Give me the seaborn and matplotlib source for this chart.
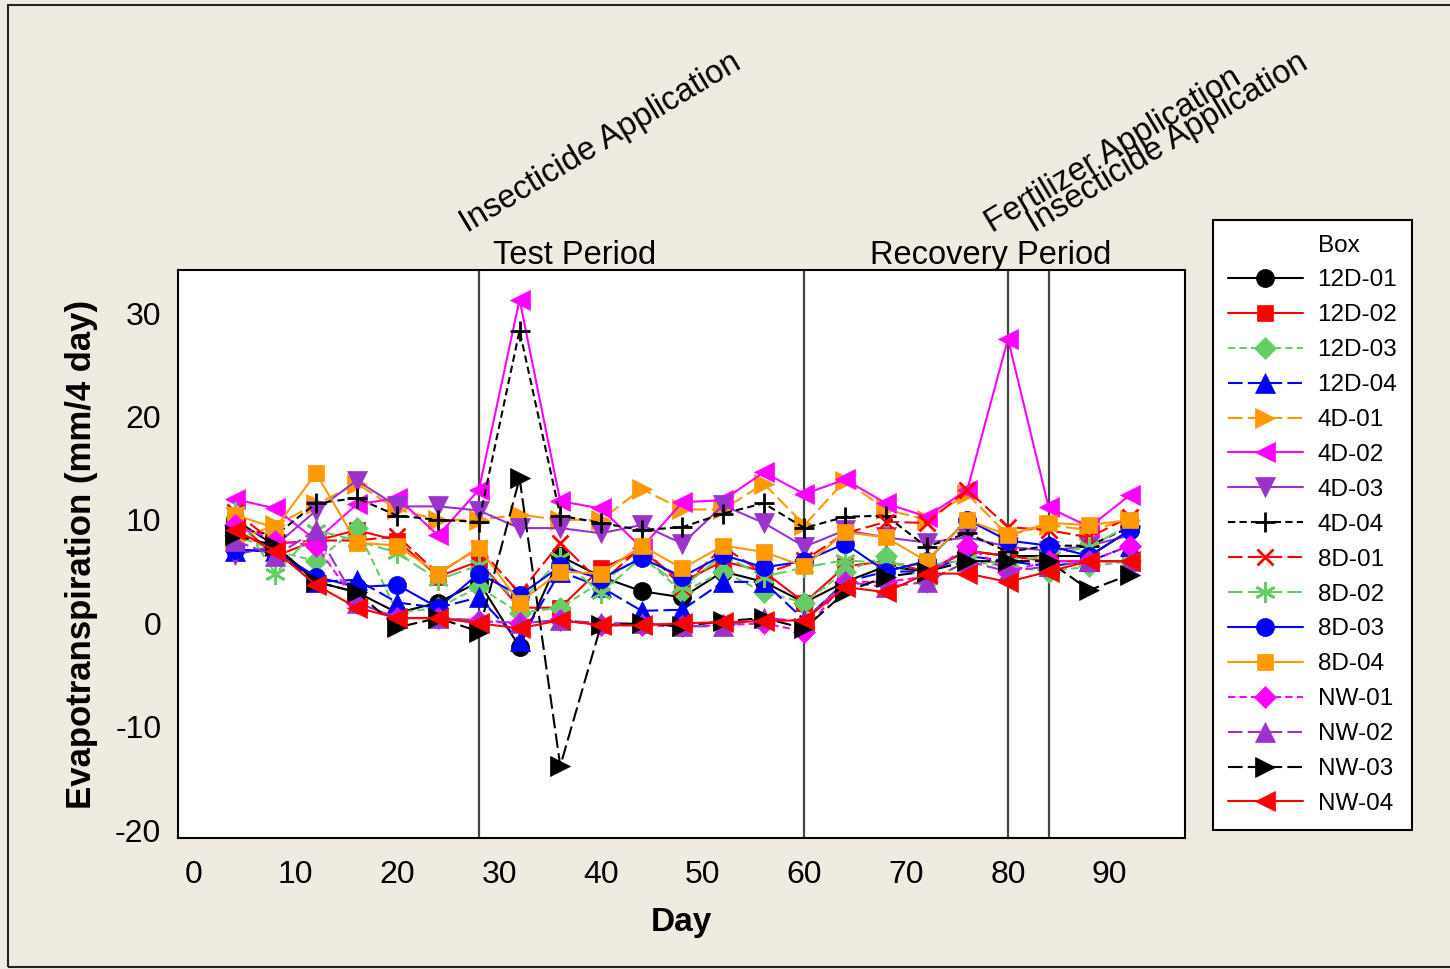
import matplotlib
matplotlib.use("Agg")
import matplotlib.pyplot as plt
from matplotlib.lines import Line2D
from matplotlib.patches import Rectangle
import seaborn as sns

# sampling days
days = [4, 8, 12, 16, 20, 24, 28, 32, 36, 40, 44, 48,
        52, 56, 60, 64, 68, 72, 76, 80, 84, 88, 92]

# evapotranspiration (mm/4 day) per box
et_12d01 = [10, 7.5, 4, 3, 1, 2, 4, -2.3, 6.5, 4.5, 3.1, 2.5, 5, 4, 2, 4, 5.5, 5, 7, 6.5, 6.5, 6.5, 9]
et_12d02 = [10, 6.5, 8, 9, 8, 4.5, 6, 1.5, 1.5, 5.3, 7, 4, 6, 5, 2, 5.5, 6, 5, 7, 6.5, 6, 6, 6]
et_12d03 = [8.5, 7, 6, 9.2, 1, 1.5, 3.5, 1, 1.5, 4, 6.5, 3, 5, 3, 2, 5, 6.5, 4, 6, 5.5, 5, 5.5, 6]
et_12d04 = [7, 7, 4, 4.2, 2, 1.5, 2.5, -1.7, 5, 3.5, 1.2, 1.3, 4, 4, 0.3, 4, 5, 5, 6.5, 6, 5.5, 6, 7.5]
et_4d01 = [8, 9.5, 11.5, 13.5, 11, 10, 10, 10.5, 10, 10, 13, 11, 11, 13.5, 9.5, 13.8, 11, 10, 12.5, 8.5, 9.5, 9, 10]
et_4d02 = [12, 11.1, 8, 11.5, 12.1, 8.5, 12.9, 31.3, 11.8, 11.1, 7.3, 11.7, 11.9, 14.6, 12.5, 13.9, 11.6, 10.3, 12.9, 27.5, 11.2, 9.3, 12.4]
et_4d03 = [6.6, 7.5, 10.9, 13.8, 11.3, 11.3, 10.9, 9.2, 9.2, 8.7, 9.5, 7.7, 11.4, 9.7, 7.4, 9, 8.3, 7.8, 8.3, 7.4, 7, 7.5, 8.5]
et_4d04 = [9.2, 8.5, 11.6, 12.1, 10.4, 10, 9.8, 28.3, 10.4, 9.7, 9, 9.3, 10.6, 11.6, 9.2, 10.3, 10.4, 7.4, 8.7, 6.9, 7.5, 7.5, 9.3]
et_8d01 = [10.8, 7.7, 8, 8, 8.4, 4.8, 7.3, 2.9, 7.8, 3.9, 7.4, 3.5, 7.4, 4.8, 6.1, 8.7, 9.8, 9.7, 12.9, 9.3, 9, 8.3, 10.3]
et_8d02 = [10.8, 4.8, 9, 8, 6.8, 4.2, 5.6, 1.9, 6.3, 2.9, 6.4, 3.5, 6.6, 4.5, 5.4, 6.1, 5.8, 5.6, 6.1, 5.8, 6.6, 7.4, 9.5]
et_8d03 = [7.1, 7, 4.5, 3.5, 3.7, 1.5, 4.8, 2.7, 5.5, 4.3, 6.3, 4.5, 6.6, 5.4, 6, 7.7, 5, 6, 10, 8, 7.5, 6.5, 9]
et_8d04 = [10.5, 9.2, 14.5, 7.8, 7.5, 4.8, 7.3, 2, 5, 4.8, 7.5, 5.3, 7.5, 6.9, 5.5, 8.8, 8.3, 6, 10, 8.5, 9.7, 9.5, 10]
et_nw01 = [9.5, 8, 7.5, 2, 0.5, 0.5, 0.2, 0, 0.3, -0.2, -0.2, -0.3, -0.2, 0, -0.8, 4, 4, 4.5, 7.5, 5, 6, 6, 7.5]
et_nw02 = [8, 6.5, 9, 2, 0.5, 0.5, 0.3, 0, 0.3, 0, 0, -0.3, -0.3, 0.5, 0.2, 4, 3.5, 4, 6, 5, 5.5, 6, 6]
et_nw03 = [8.5, 7.5, 4, 3, -0.4, 0.5, -0.8, 14, -13.8, -0.2, 0, -0.3, 0.2, 0.5, -0.5, 3, 4.5, 5, 6, 6, 6, 3.2, 4.7]
et_nw04 = [9, 7, 3.7, 1.5, 0.5, 0.5, 0, -0.5, 0.3, -0.2, -0.2, 0, 0.1, 0.2, 0.3, 3.5, 3, 4.8, 4.8, 4, 5, 6, 6]

boxes = ["12D-01", "12D-02", "12D-03", "12D-04", "4D-01", "4D-02", "4D-03", "4D-04",
         "8D-01", "8D-02", "8D-03", "8D-04", "NW-01", "NW-02", "NW-03", "NW-04"]
values = [et_12d01, et_12d02, et_12d03, et_12d04, et_4d01, et_4d02, et_4d03, et_4d04,
          et_8d01, et_8d02, et_8d03, et_8d04, et_nw01, et_nw02, et_nw03, et_nw04]

event_days = [28, 60, 80, 84]
period_labels = ["Test Period", "Recovery Period"]
period_x = [29.4, 66.4]
event_labels = ["Insecticide Application", "Fertilizer Application", "Insecticide Application"]
event_x = [26.9, 78.5, 82.6]

BLACK, RED, GREEN, BLUE = "#000000", "#FF0000", "#66CC66", "#0000FF"
ORANGE, MAGENTA, PURPLE = "#FF9900", "#FF00FF", "#9933CC"
solid, dash, ldash = "-", (0, (3.5, 2)), (0, (7, 2.5))
star = (6, 2, 0)

# colour, marker, marker size, line style
styles = [
    (BLACK, "o", 13, solid), (RED, "s", 12, solid), (GREEN, "D", 11, dash), (BLUE, "^", 14, ldash),
    (ORANGE, ">", 14, ldash), (MAGENTA, "<", 14, solid), (PURPLE, "v", 14, solid), (BLACK, "+", 15, dash),
    (RED, "x", 12, ldash), (GREEN, star, 15, ldash), (BLUE, "o", 13, solid), (ORANGE, "s", 12, solid),
    (MAGENTA, "D", 11, dash), (PURPLE, "^", 14, ldash), (BLACK, ">", 14, ldash), (RED, "<", 14, solid),
]

sns.set_style("white")
plt.rcParams["font.family"] = ["Liberation Sans", "DejaVu Sans"]
plt.rcParams["text.color"] = "black"
plt.rcParams["axes.labelcolor"] = "black"
plt.rcParams["axes.unicode_minus"] = False

fig = plt.figure(figsize=(14.5, 9.69), dpi=100, facecolor="#EFEBE1")
ax = fig.add_axes([178 / 1450, 1 - 838 / 969, 1007 / 1450, 568 / 969])
fig.patches.append(Rectangle((8 / 1450, 2 / 969), 1.2, 962 / 969, transform=fig.transFigure,
                             fill=False, edgecolor="#222222", linewidth=1.5))

for box, vals, (col, mk, ms, ls) in zip(boxes, values, styles):
    line_art = mk in ("+", "x") or mk == star
    sns.lineplot(x=days, y=vals, ax=ax, color=col, marker=mk, markersize=ms, linestyle=ls,
                 linewidth=1.5, markeredgecolor=col, markerfacecolor=col,
                 markeredgewidth=2 if line_art else 0.5, label=box)

for d in event_days:
    ax.axvline(d, color="#444444", linewidth=1.6, zorder=0.5)

tr = ax.get_xaxis_transform()
for lab, xv in zip(period_labels, period_x):
    ax.text(xv, 1.011, lab, transform=tr, ha="left", va="baseline", fontsize=23.5)
for lab, xv in zip(event_labels, event_x):
    ax.text(xv, 1.065, lab, transform=tr, ha="left", va="baseline", fontsize=23.5,
            rotation=31, rotation_mode="anchor")

ax.set_xlim(-1.57, 97.4)
ax.set_ylim(-20.77, 34.16)
ax.set_xticks([0, 10, 20, 30, 40, 50, 60, 70, 80, 90])
ax.set_yticks([-20, -10, 0, 10, 20, 30])
ax.tick_params(axis="both", direction="out", length=7, width=1.5, labelsize=23,
               colors="black", labelcolor="black")
ax.tick_params(axis="y", pad=5)
ax.tick_params(axis="x", pad=9)
for sp in ax.spines.values():
    sp.set_color("black")
    sp.set_linewidth(1.5)
ax.set_xlabel("Day", fontsize=24, fontweight="bold", labelpad=12, color="black")
ax.set_ylabel("Evapotranspiration (mm/4 day)", fontsize=25, fontweight="bold", labelpad=12,
              color="black")

handles, labels = ax.get_legend_handles_labels()
title_h = Line2D([], [], color="none")
leg = ax.legend([title_h] + handles, ["Box"] + labels, loc="upper left",
                bbox_to_anchor=(1213 / 1450, 1 - 220 / 969), bbox_transform=fig.transFigure,
                borderaxespad=0, fontsize=17.5, frameon=True, fancybox=False,
                edgecolor="black", framealpha=1, handlelength=3.1, handletextpad=0.6,
                labelspacing=0.53, borderpad=0.6)
leg.get_frame().set_linewidth(1.5)
for t in leg.get_texts():
    t.set_color("black")

fig.savefig("out.png", dpi=100, facecolor=fig.get_facecolor())
